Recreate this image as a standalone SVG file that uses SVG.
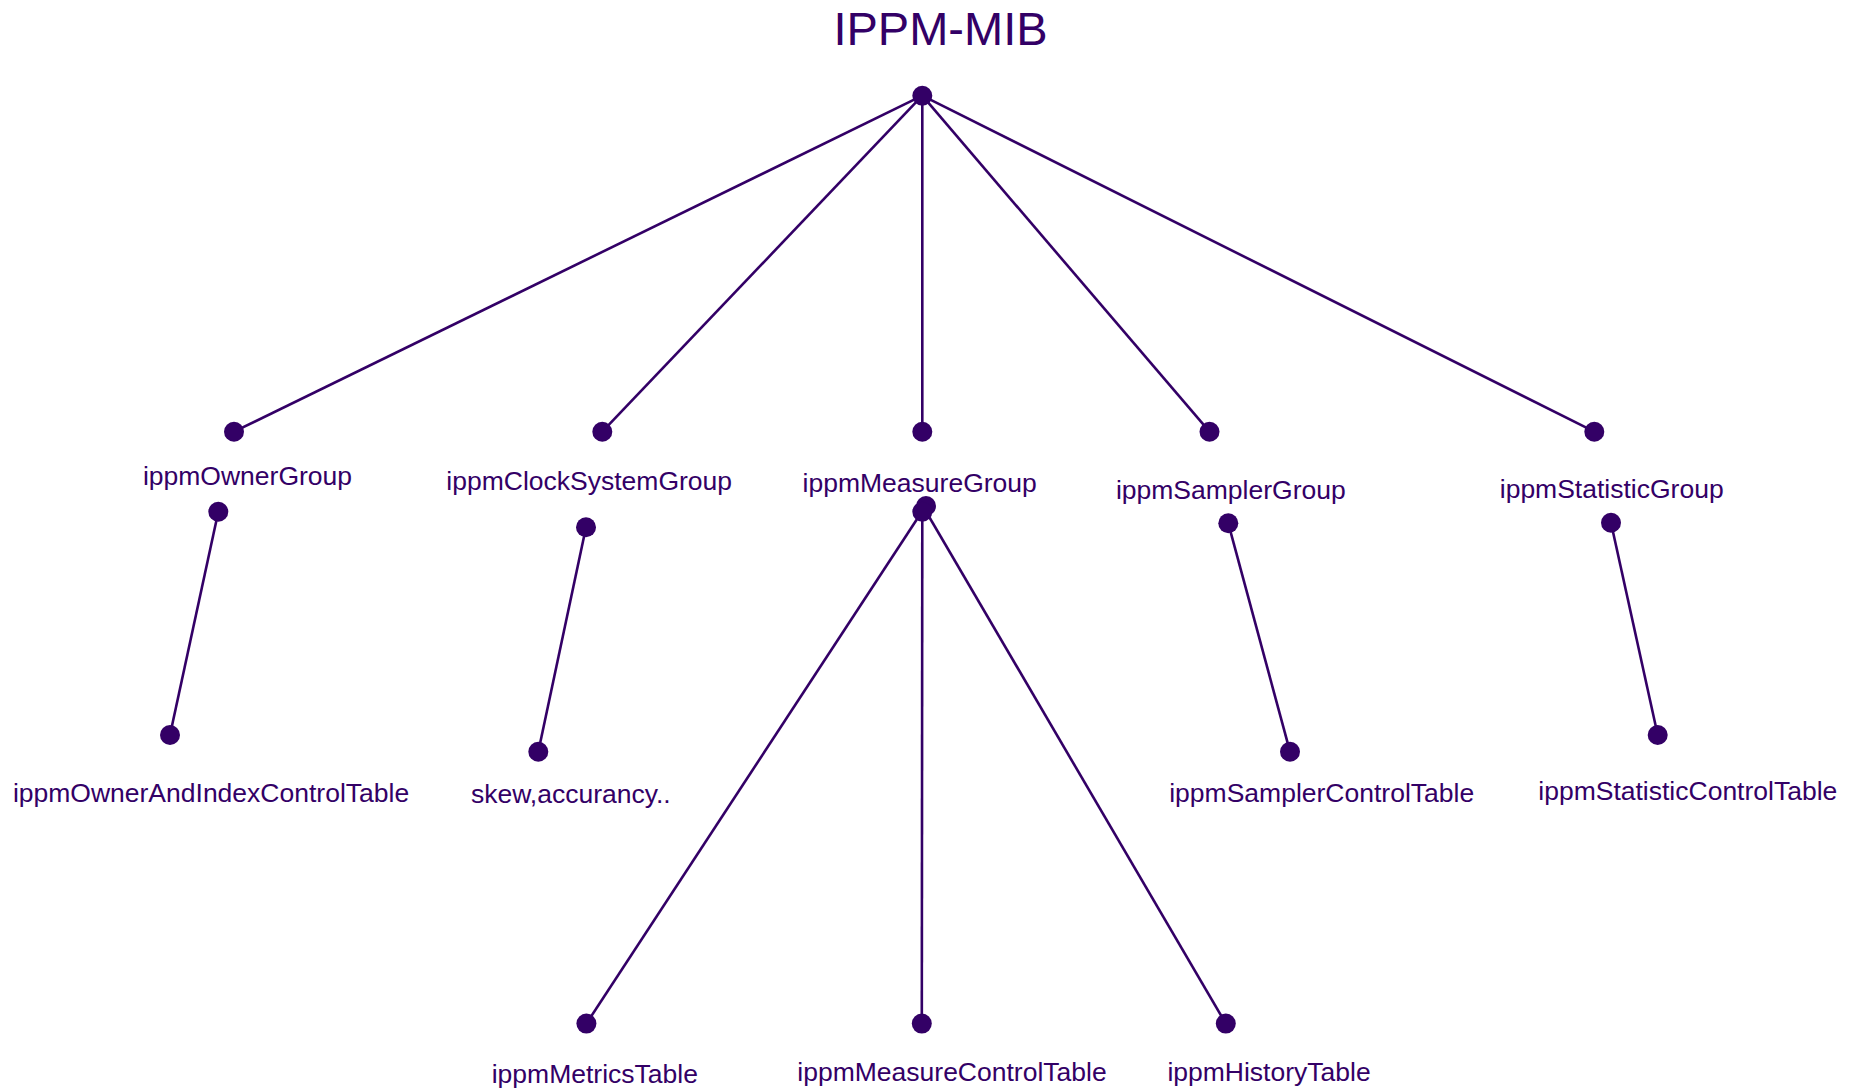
<svg xmlns="http://www.w3.org/2000/svg" width="1857" height="1091" viewBox="0 0 1857 1091">
<style>
.e{stroke:#330066;stroke-width:2.6;fill:none}
.d{fill:#330066}
.t{font-family:"Liberation Sans",Arial,sans-serif;font-size:26.5px;fill:#330066;text-anchor:middle}
.title{font-family:"Liberation Sans",Arial,sans-serif;font-size:47px;fill:#330066;text-anchor:middle}
</style>
<rect width="1857" height="1091" fill="#ffffff"/>
<text class="title" x="940.5" y="45">IPPM-MIB</text>
<g id="connectors">
<line class="e" x1="922.3" y1="95.7" x2="234" y2="431.7"/>
<line class="e" x1="922.3" y1="95.7" x2="602.3" y2="431.7"/>
<line class="e" x1="922.3" y1="95.7" x2="922.3" y2="431.7"/>
<line class="e" x1="922.3" y1="95.7" x2="1209.5" y2="431.7"/>
<line class="e" x1="922.3" y1="95.7" x2="1594.3" y2="431.7"/>
<line class="e" x1="218.3" y1="511.7" x2="170" y2="735"/>
<line class="e" x1="586" y1="527.3" x2="538.3" y2="751.7"/>
<line class="e" x1="923" y1="510" x2="586.4" y2="1023.6"/>
<line class="e" x1="922.3" y1="510" x2="921.8" y2="1023.6"/>
<line class="e" x1="924" y1="508" x2="1225.8" y2="1023.6"/>
<line class="e" x1="1228.3" y1="523.3" x2="1290" y2="751.7"/>
<line class="e" x1="1611" y1="522.7" x2="1657.7" y2="735"/>
</g>
<g id="root"><circle class="d" cx="922.3" cy="95.7" r="10"/></g>
<g id="ippmOwnerGroup"><circle class="d" cx="234" cy="431.7" r="10"/><text class="t" x="247.5" y="485">ippmOwnerGroup</text><circle class="d" cx="218.3" cy="511.7" r="10"/></g>
<g id="ippmOwnerAndIndexControlTable"><circle class="d" cx="170" cy="735" r="10"/><text class="t" x="211" y="801.7">ippmOwnerAndIndexControlTable</text></g>
<g id="ippmClockSystemGroup"><circle class="d" cx="602.3" cy="431.7" r="10"/><text class="t" x="589.2" y="490">ippmClockSystemGroup</text><circle class="d" cx="586" cy="527.3" r="10"/></g>
<g id="skew"><circle class="d" cx="538.3" cy="751.7" r="10"/><text class="t" x="570.8" y="803.3">skew,accurancy..</text></g>
<g id="ippmMeasureGroup"><circle class="d" cx="922.3" cy="431.7" r="10"/><text class="t" x="919.7" y="491.7">ippmMeasureGroup</text><circle class="d" cx="926" cy="506" r="10"/><circle class="d" cx="922.3" cy="511.7" r="10"/></g>
<g id="ippmMetricsTable"><circle class="d" cx="586.4" cy="1023.6" r="10"/><text class="t" x="594.8" y="1082.5">ippmMetricsTable</text></g>
<g id="ippmMeasureControlTable"><circle class="d" cx="921.8" cy="1023.6" r="10"/><text class="t" x="952" y="1080.8">ippmMeasureControlTable</text></g>
<g id="ippmHistoryTable"><circle class="d" cx="1225.8" cy="1023.6" r="10"/><text class="t" x="1269" y="1080.8">ippmHistoryTable</text></g>
<g id="ippmSamplerGroup"><circle class="d" cx="1209.5" cy="431.7" r="10"/><text class="t" x="1230.8" y="499">ippmSamplerGroup</text><circle class="d" cx="1228.3" cy="523.3" r="10"/></g>
<g id="ippmSamplerControlTable"><circle class="d" cx="1290" cy="751.7" r="10"/><text class="t" x="1321.7" y="801.7">ippmSamplerControlTable</text></g>
<g id="ippmStatisticGroup"><circle class="d" cx="1594.3" cy="431.7" r="10"/><text class="t" x="1611.7" y="498.3">ippmStatisticGroup</text><circle class="d" cx="1611" cy="522.7" r="10"/></g>
<g id="ippmStatisticControlTable"><circle class="d" cx="1657.7" cy="735" r="10"/><text class="t" x="1687.8" y="800">ippmStatisticControlTable</text></g>
</svg>
